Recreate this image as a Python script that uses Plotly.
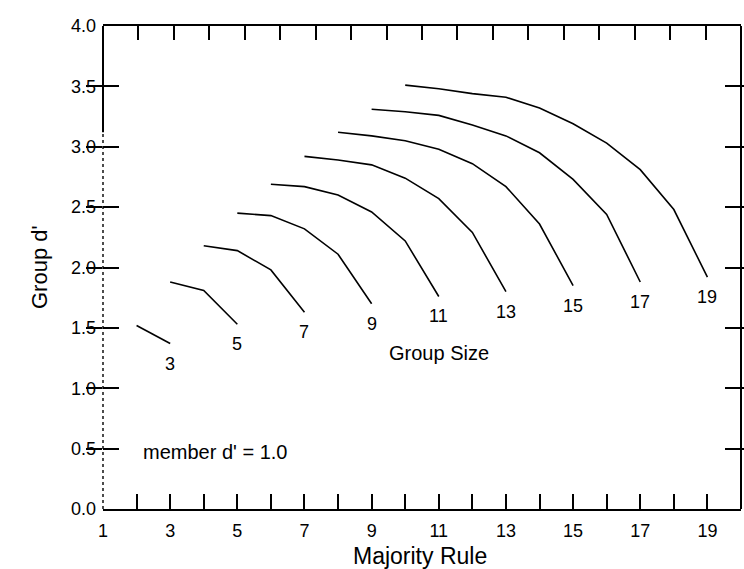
import plotly.graph_objects as go

# Majority rule k (number of "yes" votes needed) on the x axis
majority_rule_ticks = list(range(1, 20))
top_ticks = list(range(2, 19))
dprime_ticks = [0.0, 0.5, 1.0, 1.5, 2.0, 2.5, 3.0, 3.5, 4.0]

# Group sizes, each curve runs from simple majority up to unanimity
group_sizes = [3, 5, 7, 9, 11, 13, 15, 17, 19]

# Group d' for each group size (member d' = 1.0)
dprime_n3 = [1.52, 1.37]
dprime_n5 = [1.88, 1.81, 1.53]
dprime_n7 = [2.18, 2.14, 1.98, 1.63]
dprime_n9 = [2.45, 2.43, 2.32, 2.11, 1.70]
dprime_n11 = [2.69, 2.67, 2.60, 2.46, 2.22, 1.76]
dprime_n13 = [2.92, 2.89, 2.85, 2.74, 2.57, 2.29, 1.80]
dprime_n15 = [3.12, 3.09, 3.05, 2.98, 2.86, 2.67, 2.36, 1.85]
dprime_n17 = [3.31, 3.29, 3.26, 3.18, 3.09, 2.95, 2.73, 2.44, 1.88]
dprime_n19 = [3.51, 3.48, 3.44, 3.41, 3.32, 3.19, 3.03, 2.81, 2.48, 1.92]

curves = [dprime_n3, dprime_n5, dprime_n7, dprime_n9, dprime_n11,
          dprime_n13, dprime_n15, dprime_n17, dprime_n19]

FONT = "Liberation Sans, Arial, Helvetica, sans-serif"

fig = go.Figure()
annotations = []
for n, values in zip(group_sizes, curves):
    k = list(range((n + 1) // 2, n + 1))
    fig.add_trace(go.Scatter(
        x=k, y=values, mode="lines",
        line=dict(color="black", width=1.6),
        hoverinfo="skip", showlegend=False,
    ))
    # group-size label under the unanimity end of each curve
    annotations.append(dict(
        x=n, y=values[-1], xref="x", yref="y", text=str(n),
        showarrow=False, yshift=-20, font=dict(size=18),
    ))

# empty trace so the top tick axis gets drawn
fig.add_trace(go.Scatter(
    x=top_ticks, y=[None] * len(top_ticks), xaxis="x2", yaxis="y",
    mode="lines", hoverinfo="skip", showlegend=False,
))

annotations += [
    dict(x=11, y=1.29, xref="x", yref="y", text="Group Size",
         showarrow=False, font=dict(size=20)),
    dict(x=2.13, y=0.47, xref="x", yref="y", text="member d' = 1.0",
         xanchor="left", showarrow=False, font=dict(size=20)),
    dict(x=0.497, y=0, xref="paper", yref="paper", text="Majority Rule",
         yanchor="middle", yshift=-47, showarrow=False, font=dict(size=23)),
    dict(x=0, y=2.0, xref="paper", yref="y", text="Group d'",
         textangle=-90, xshift=-78, showarrow=False, font=dict(size=22)),
]

fig.update_layout(
    width=744, height=569,
    margin=dict(l=103, r=3, t=26, b=60),
    plot_bgcolor="white", paper_bgcolor="white",
    font=dict(family=FONT, size=18, color="black"),
    showlegend=False,
    annotations=annotations,
    xaxis=dict(
        range=[1, 20], tickmode="array", tickvals=majority_rule_ticks,
        ticktext=[str(v) if v % 2 else "" for v in majority_rule_ticks],
        ticks="inside", ticklen=15, tickwidth=1.6, tickcolor="black",
        showline=True, linewidth=2, linecolor="black", mirror=False,
        showgrid=False, zeroline=False, ticklabelstandoff=4,
    ),
    xaxis2=dict(
        range=[1, 19], overlaying="x", side="top", anchor="y",
        tickmode="array", tickvals=top_ticks, showticklabels=False,
        ticks="inside", ticklen=14, tickwidth=1.6, tickcolor="black",
        showline=True, linewidth=2, linecolor="black",
        showgrid=False, zeroline=False,
    ),
    yaxis=dict(
        range=[0, 4], tickmode="array", tickvals=dprime_ticks,
        ticktext=[f"{v:.1f}" for v in dprime_ticks],
        ticks="inside", ticklen=16, tickwidth=1.6, tickcolor="black",
        showline=False, mirror="allticks",
        showgrid=False, zeroline=False, ticklabelstandoff=6,
    ),
    shapes=[
        # left spine: solid at the top, dotted further down
        dict(type="line", xref="paper", yref="y", x0=0, x1=0, y0=3.12, y1=4,
             line=dict(color="black", width=2)),
        dict(type="line", xref="paper", yref="y", x0=0, x1=0, y0=0, y1=3.12,
             line=dict(color="black", width=1.4, dash="dot")),
        # right spine
        dict(type="line", xref="paper", yref="paper", x0=1, x1=1, y0=0, y1=1,
             line=dict(color="black", width=2)),
    ],
)

fig.write_html("out.html")
